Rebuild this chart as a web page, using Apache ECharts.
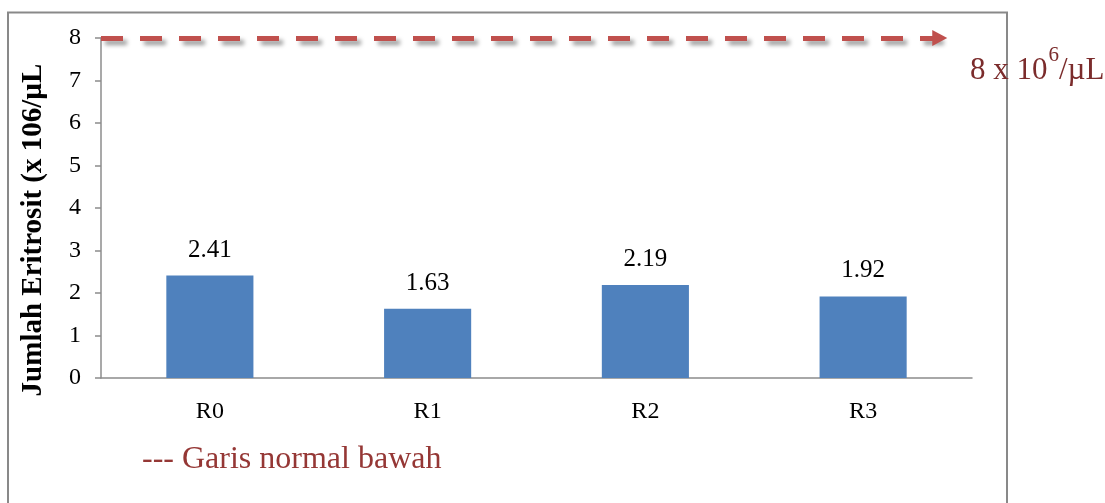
<!DOCTYPE html>
<html>
<head>
<meta charset="utf-8">
<title>Jumlah Eritrosit</title>
<script src="https://cdn.jsdelivr.net/npm/echarts@6/dist/echarts.min.js"></script>
<style>
  html, body { margin: 0; padding: 0; background: #ffffff; }
  #chart { width: 1105px; height: 503px; }
</style>
</head>
<body>
<div id="chart"></div>
<script>
// Erythrocyte counts per treatment group (x 10^6 / µL)
const categories = ['R0', 'R1', 'R2', 'R3'];
const erythrocytes = [2.41, 1.63, 2.19, 1.92];

// Lower normal limit drawn as a dashed reference arrow
const lowerNormal = 8;
// Horizontal extent of the reference arrow, as a fraction of the plot width
const refLineFrom = 0;
const refLineTo = 0.963;

// Value-axis ticks
const yMin = 0;
const yMax = 8;
const yStep = 1;

const serif = '"Liberation Serif", "Times New Roman", serif';

// width of a text run, used to set the superscript after its base text
function textWidth(str, font) {
  const ctx = document.createElement('canvas').getContext('2d');
  ctx.font = font;
  return ctx.measureText(str).width;
}

const chart = echarts.init(document.getElementById('chart'), null, { renderer: 'canvas' });

// "8 x 10^6/µL" annotation, built from three runs
const annFont = '31px ' + serif;
const supFont = '21px ' + serif;
const annX = 970;
const annY = 71;
const annBase = '8 x 10';
const annSup = '6';
const annTail = '/µL';
const wBase = textWidth(annBase, annFont);
const wSup = textWidth(annSup, supFont);

chart.setOption({
  backgroundColor: '#ffffff',
  animation: false,
  grid: { left: 101, right: 133, top: 38, bottom: 125, containLabel: false },
  xAxis: [
    {
      type: 'category',
      data: categories,
      axisLine: { show: true, lineStyle: { color: '#8c8c8c', width: 1.5 } },
      axisTick: { show: false },
      axisLabel: { color: '#000', fontFamily: serif, fontSize: 24, margin: 22 },
      splitLine: { show: false }
    },
    {
      // helper axis spanning the plot width, used to place the reference arrow
      type: 'value',
      min: 0,
      max: 1,
      show: false
    }
  ],
  yAxis: {
    type: 'value',
    min: yMin,
    max: yMax,
    interval: yStep,
    name: 'Jumlah Eritrosit (x 106/µL',
    nameLocation: 'middle',
    nameGap: 53,
    nameRotate: 90,
    nameTextStyle: {
      color: '#000',
      fontFamily: serif,
      fontSize: 29,
      fontWeight: 'bold',
      padding: [0, 44, 0, 0]
    },
    axisLine: { show: true, lineStyle: { color: '#8c8c8c', width: 1.5 } },
    axisTick: { show: true, inside: false, length: 6, lineStyle: { color: '#8c8c8c', width: 1.5 } },
    axisLabel: { color: '#000', fontFamily: serif, fontSize: 24, margin: 20 },
    splitLine: { show: false }
  },
  series: [
    {
      type: 'bar',
      data: erythrocytes,
      barWidth: '40%',
      itemStyle: { color: '#4f81bd' },
      label: {
        show: true,
        position: 'top',
        distance: 13,
        color: '#000',
        fontFamily: serif,
        fontSize: 25,
        formatter: p => p.value.toFixed(2)
      }
    },
    {
      type: 'line',
      xAxisIndex: 1,
      yAxisIndex: 0,
      clip: false,
      silent: true,
      showSymbol: false,
      symbol: 'none',
      lineStyle: { opacity: 0 },
      data: [[refLineFrom, lowerNormal], [refLineTo, lowerNormal]],
      markLine: {
        silent: true,
        symbol: ['none', 'triangle'],
        symbolSize: [16, 15],
        label: { show: false },
        lineStyle: {
          color: '#c0504d',
          width: 5,
          type: [22, 17],
          opacity: 1,
          shadowColor: 'rgba(0,0,0,0.4)',
          shadowBlur: 4,
          shadowOffsetX: 4,
          shadowOffsetY: 4
        },
        itemStyle: { color: '#c0504d' },
        emphasis: { disabled: true },
        data: [[
          { coord: [refLineFrom, lowerNormal] },
          { coord: [refLineTo, lowerNormal] }
        ]]
      }
    }
  ],
  graphic: [
    {
      type: 'rect',
      silent: true,
      shape: { x: 8, y: 12.5, width: 999, height: 520 },
      style: { fill: 'none', stroke: '#898989', lineWidth: 2 },
      z: 0
    },
    {
      type: 'text',
      silent: true,
      x: annX,
      y: annY,
      style: { text: annBase, fill: '#7b2c2c', font: annFont, verticalAlign: 'middle', align: 'left' },
      z: 10
    },
    {
      type: 'text',
      silent: true,
      x: annX + wBase + 1,
      y: annY - 16,
      style: { text: annSup, fill: '#7b2c2c', font: supFont, verticalAlign: 'middle', align: 'left' },
      z: 10
    },
    {
      type: 'text',
      silent: true,
      x: annX + wBase + 1 + wSup,
      y: annY,
      style: { text: annTail, fill: '#7b2c2c', font: annFont, verticalAlign: 'middle', align: 'left' },
      z: 10
    },
    {
      type: 'text',
      silent: true,
      x: 142,
      y: 460,
      style: {
        text: '--- Garis normal bawah',
        fill: '#953735',
        font: '32px ' + serif,
        verticalAlign: 'middle',
        align: 'left'
      },
      z: 10
    }
  ]
});
</script>
</body>
</html>
